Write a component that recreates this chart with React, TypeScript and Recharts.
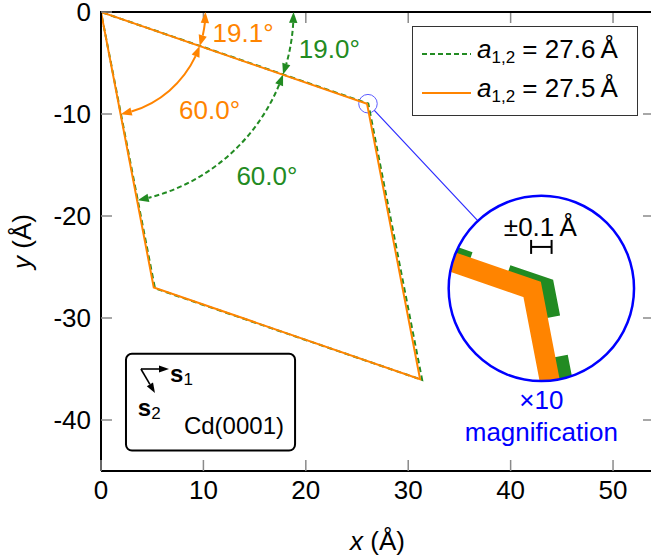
import React from 'react';
import * as Recharts from 'recharts';

const R: any = Recharts;
const { ComposedChart, Line, XAxis, YAxis, Legend, Customized } = R;

// axes
const X_TICKS = [0, 10, 20, 30, 40, 50];
const Y_TICKS = [0, -10, -20, -30, -40];
const X_DOMAIN = [0, 54];
const Y_DOMAIN = [-45, 0];

// the two unit cells (closed polygons)
const CELL_NAMES = ['27.6', '27.5'];
const GREEN_X = [0, 26.1, 31.36, 5.27, 0];
const GREEN_Y = [0, -8.98, -36.07, -27.09, 0];
const ORANGE_X = [0, 25.98, 31.16, 5.15, 0];
const ORANGE_Y = [0, -9.0, -36.0, -27.0, 0];

// angle arcs: radius (Å), start and end angle (deg below +x)
const ARC_RADIUS = [10.2, 10.2, 18.8, 18.8];
const ARC_FROM = [0, 19.1, 0, 19.0];
const ARC_TO = [19.1, 79.1, 19.0, 79.0];
const ARC_LABELS = ['19.1°', '60.0°', '19.0°', '60.0°'];

const GREEN = '#228b22';
const ORANGE = '#ff8400';
const BLUE = '#0000ff';
const TICK_GRAY = '#8a8a8a';
const FONT = '"Liberation Sans", Arial, Helvetica, sans-serif';

const W = 655;
const H = 559;
const TICK_LEN = 11;
const TICK_GAP = 10;
const DASH = '5.5 3.5';

// annotation layout (data units)
const ARC_LABEL_POS = [
  [13.87, -2.06],
  [10.6, -9.6],
  [22.3, -3.58],
  [16.2, -16.1],
];
const ZOOM_CENTER = [26.07, -8.99];
const ZOOM_R = 0.905;
const MAG = 10;
const LENS_CENTER = [43.0, -27.1];

const toRows = (xs: number[], ys: number[]) => xs.map((x, i) => ({ x, y: ys[i] }));
const greenData = toRows(GREEN_X, GREEN_Y);
const orangeData = toRows(ORANGE_X, ORANGE_Y);

const HAS_SCALE = typeof R.useXAxisScale === 'function' && typeof R.useYAxisScale === 'function';
const HAS_PLOT = typeof R.usePlotArea === 'function';

function useMapper() {
  const xs = HAS_SCALE ? R.useXAxisScale(0) : null;
  const ys = HAS_SCALE ? R.useYAxisScale(0) : null;
  const area = HAS_PLOT ? R.usePlotArea() : null;
  let rect = { x: 101, y: 12, width: 553, height: 459 };
  if (area && area.width) rect = area;
  let px = (x: number, y: number): [number, number] => [
    rect.x + ((x - X_DOMAIN[0]) / (X_DOMAIN[1] - X_DOMAIN[0])) * rect.width,
    rect.y + ((Y_DOMAIN[1] - y) / (Y_DOMAIN[1] - Y_DOMAIN[0])) * rect.height,
  ];
  if (typeof xs === 'function' && typeof ys === 'function' && Number.isFinite(xs(1))) {
    px = (x: number, y: number) => [xs(x), ys(y)];
  }
  return { px, rect };
}

function head(tip: number[], base: number[], half: number, color: string, key: string) {
  const dx = tip[0] - base[0];
  const dy = tip[1] - base[1];
  const l = Math.hypot(dx, dy) || 1;
  const nx = -dy / l;
  const ny = dx / l;
  const pts = [tip, [base[0] + nx * half, base[1] + ny * half], [base[0] - nx * half, base[1] - ny * half]];
  return <polygon key={key} points={pts.map((p) => p.join(',')).join(' ')} fill={color} />;
}

function Annotations() {
  const { px, rect } = useMapper();
  const unit = px(1, 0)[0] - px(0, 0)[0];
  const right = px(X_DOMAIN[1], 0)[0];
  const top = px(0, Y_DOMAIN[1])[1];
  const left = px(X_DOMAIN[0], 0)[0];
  const bottom = px(0, Y_DOMAIN[0])[1];

  const arcs = ARC_RADIUS.map((r, i) => {
    const green = i >= 2;
    const color = green ? GREEN : ORANGE;
    const c = px(0, 0);
    const rx = px(r, 0)[0] - c[0];
    const ry = px(0, -r)[1] - c[1];
    const at = (deg: number) => {
      const t = (deg * Math.PI) / 180;
      return [c[0] + rx * Math.cos(t), c[1] + ry * Math.sin(t)];
    };
    const d = ((11 / rx) * 180) / Math.PI;
    const s = at(ARC_FROM[i] + d);
    const e = at(ARC_TO[i] - d);
    return (
      <g key={`arc${i}`}>
        <path
          d={`M${s[0]},${s[1]} A${rx},${ry} 0 0 1 ${e[0]},${e[1]}`}
          fill="none"
          stroke={color}
          strokeWidth={2}
          strokeDasharray={green ? '5 3' : undefined}
        />
        {head(at(ARC_FROM[i]), at(ARC_FROM[i] + d), 4.2, color, 'h1')}
        {head(at(ARC_TO[i]), at(ARC_TO[i] - d), 4.2, color, 'h2')}
        <text
          x={px(ARC_LABEL_POS[i][0], 0)[0]}
          y={px(0, ARC_LABEL_POS[i][1])[1]}
          dy="0.355em"
          textAnchor="middle"
          fontSize={26}
          fill={color}
        >
          {ARC_LABELS[i]}
        </text>
      </g>
    );
  });

  // magnifier
  const zc = px(ZOOM_CENTER[0], ZOOM_CENTER[1]);
  const lc = px(LENS_CENTER[0], LENS_CENTER[1]);
  const rSmall = ZOOM_R * unit;
  const rBig = rSmall * MAG;
  const mag = (x: number, y: number) => {
    const p = px(x, y);
    return [lc[0] + MAG * (p[0] - zc[0]), lc[1] + MAG * (p[1] - zc[1])];
  };
  const poly = (data: { x: number; y: number }[]) => data.map((p) => mag(p.x, p.y).join(',')).join(' ');
  const ddx = lc[0] - zc[0];
  const ddy = lc[1] - zc[1];
  const dl = Math.hypot(ddx, ddy);
  const ux = ddx / dl;
  const uy = ddy / dl;
  const barY = lc[1] - 41.5;
  const barHalf = 0.1 * unit * MAG;

  // Cd(0001) box
  const b0 = px(2.44, -33.5);
  const b1 = px(18.95, -43.0);
  const o = px(3.9, -35.0);
  const s1 = px(6.64, -35.0);
  const s2 = px(5.27, -37.35);
  const armHead = (tip: number[]) => {
    const dx = tip[0] - o[0];
    const dy = tip[1] - o[1];
    const l = Math.hypot(dx, dy);
    return [tip[0] - (dx / l) * 10, tip[1] - (dy / l) * 10];
  };
  const a1 = armHead(s1);
  const a2 = armHead(s2);

  const midX = rect.x + rect.width / 2;
  const midY = rect.y + rect.height / 2;

  return (
    <g fontFamily={FONT}>
      {/* top and right frame with inward ticks */}
      <g stroke={TICK_GRAY} strokeWidth={1.5}>
        {X_TICKS.filter((t) => t > X_DOMAIN[0]).map((t) => (
          <line key={`tt${t}`} x1={px(t, 0)[0]} x2={px(t, 0)[0]} y1={top} y2={top + TICK_LEN} />
        ))}
        {Y_TICKS.filter((t) => t < Y_DOMAIN[1]).map((t) => (
          <line key={`rt${t}`} x1={right} x2={right - TICK_LEN} y1={px(0, t)[1]} y2={px(0, t)[1]} />
        ))}
      </g>
      <line x1={left - 1} x2={right} y1={top} y2={top} stroke="#000" strokeWidth={2} />
      <line x1={right} x2={right} y1={top} y2={bottom} stroke="#000" strokeWidth={2} />

      {arcs}

      <circle cx={zc[0]} cy={zc[1]} r={rSmall} fill="none" stroke="#5c5cff" strokeWidth={1} />
      <line
        x1={zc[0] + ux * rSmall}
        y1={zc[1] + uy * rSmall}
        x2={lc[0] - ux * rBig}
        y2={lc[1] - uy * rBig}
        stroke="#2a2aff"
        strokeWidth={1.2}
      />
      <defs>
        <clipPath id="lensClip">
          <circle cx={lc[0]} cy={lc[1]} r={rBig} />
        </clipPath>
      </defs>
      <circle cx={lc[0]} cy={lc[1]} r={rBig} fill="#fff" />
      <g clipPath="url(#lensClip)">
        <polyline
          points={poly(greenData)}
          fill="none"
          stroke={GREEN}
          strokeWidth={20}
          strokeDasharray="70 40"
          strokeDashoffset={74}
        />
        <polyline points={poly(orangeData)} fill="none" stroke={ORANGE} strokeWidth={20} />
      </g>
      <circle cx={lc[0]} cy={lc[1]} r={rBig} fill="none" stroke={BLUE} strokeWidth={2.5} />
      <text x={lc[0] - 1} y={lc[1] - 62} dy="0.355em" textAnchor="middle" fontSize={26} fill="#000">
        ±0.1{'\u2009'}Å
      </text>
      <g stroke="#000" strokeWidth={2}>
        <line x1={lc[0] - barHalf} x2={lc[0] + barHalf} y1={barY} y2={barY} />
        <line x1={lc[0] - barHalf} x2={lc[0] - barHalf} y1={barY - 7} y2={barY + 7} />
        <line x1={lc[0] + barHalf} x2={lc[0] + barHalf} y1={barY - 7} y2={barY + 7} />
      </g>
      <text x={lc[0]} y={lc[1] + 111} dy="0.355em" textAnchor="middle" fontSize={26} fill={BLUE}>
        ×10
      </text>
      <text x={lc[0]} y={lc[1] + 143} dy="0.355em" textAnchor="middle" fontSize={26} fill={BLUE}>
        magnification
      </text>

      <rect
        x={b0[0]}
        y={b0[1]}
        width={b1[0] - b0[0]}
        height={b1[1] - b0[1]}
        rx={6}
        fill="#fff"
        stroke="#000"
        strokeWidth={2}
      />
      <line x1={o[0]} y1={o[1]} x2={a1[0]} y2={a1[1]} stroke="#000" strokeWidth={1.6} />
      <line x1={o[0]} y1={o[1]} x2={a2[0]} y2={a2[1]} stroke="#000" strokeWidth={1.6} />
      {head(s1, a1, 3.6, '#000', 's1h')}
      {head(s2, a2, 3.6, '#000', 's2h')}
      <text x={px(6.74, 0)[0]} y={px(0, -35.4)[1]} dy="0.355em" fontSize={24} fill="#000">
        <tspan fontWeight="bold">s</tspan>
        <tspan fontSize={17} dy="3">1</tspan>
      </text>
      <text x={px(3.6, 0)[0]} y={px(0, -38.8)[1]} dy="0.355em" fontSize={24} fill="#000">
        <tspan fontWeight="bold">s</tspan>
        <tspan fontSize={17} dy="3">2</tspan>
      </text>
      <text x={px(17.87, 0)[0]} y={px(0, -40.5)[1]} dy="0.355em" textAnchor="end" fontSize={24} fill="#000">
        Cd(0001)
      </text>

      <text x={midX} y={rect.y + rect.height + 70} dy="0.355em" textAnchor="middle" fontSize={26} fill="#000">
        <tspan fontStyle="italic">x</tspan> (Å)
      </text>
      <text
        x={22}
        y={midY}
        dy="0.355em"
        textAnchor="middle"
        fontSize={26}
        fill="#000"
        transform={`rotate(-90 22 ${midY})`}
      >
        <tspan fontStyle="italic">y</tspan> (Å)
      </text>
    </g>
  );
}

const XTick = (p: any) => {
  const { x, y, payload } = p;
  const base = y - TICK_GAP;
  return (
    <g>
      <line x1={x} x2={x} y1={base} y2={base - TICK_LEN} stroke={TICK_GRAY} strokeWidth={1.5} />
      <text x={x} y={y} dy="0.71em" textAnchor="middle" fontSize={26} fontFamily={FONT} fill="#000">
        {payload.value}
      </text>
    </g>
  );
};

const YTick = (p: any) => {
  const { x, y, payload } = p;
  const base = x + TICK_GAP;
  return (
    <g>
      <line x1={base} x2={base + TICK_LEN} y1={y} y2={y} stroke={TICK_GRAY} strokeWidth={1.5} />
      <text x={x} y={y} dy="0.355em" textAnchor="end" fontSize={26} fontFamily={FONT} fill="#000">
        {payload.value}
      </text>
    </g>
  );
};

const LegendBox = (props: any) => {
  const items = [...(props.payload || [])].sort(
    (a: any, b: any) => CELL_NAMES.indexOf(a.value) - CELL_NAMES.indexOf(b.value),
  );
  return (
    <div
      style={{
        boxSizing: 'border-box',
        width: 226,
        height: 90,
        border: '1.5px solid #333',
        background: '#fff',
        paddingTop: 7,
        fontFamily: FONT,
        fontSize: 26,
        color: '#000',
      }}
    >
      {items.map((it: any, i: number) => {
        const dashed = it.value === CELL_NAMES[0];
        return (
          <div key={i} style={{ display: 'flex', alignItems: 'center', height: 39 }}>
            <svg width={58} height={10} style={{ display: 'block' }}>
              <line
                x1={9}
                x2={58}
                y1={5}
                y2={5}
                stroke={it.color}
                strokeWidth={2}
                strokeDasharray={dashed ? '5 3' : undefined}
              />
            </svg>
            <span style={{ marginLeft: 6, whiteSpace: 'nowrap', lineHeight: '26px' }}>
              <i>a</i>
              <sub style={{ fontSize: 17, verticalAlign: '-5px' }}>1,2</sub> = {it.value}
              {'\u2009'}Å
            </span>
          </div>
        );
      })}
    </div>
  );
};

export default function App() {
  return (
    <div style={{ position: 'absolute', left: 0, top: 0, width: 651, height: 559, overflow: 'hidden', background: '#fff' }}>
      <ComposedChart width={W} height={H} margin={{ top: 12, right: 1, bottom: 0, left: 0 }}>
        <XAxis
          xAxisId={0}
          dataKey="x"
          type="number"
          domain={X_DOMAIN}
          ticks={X_TICKS}
          allowDataOverflow
          height={88}
          tickSize={0}
          tickMargin={TICK_GAP}
          tickLine={false}
          tick={<XTick />}
          axisLine={{ stroke: '#000', strokeWidth: 2 }}
        />
        <YAxis
          yAxisId={0}
          dataKey="y"
          type="number"
          domain={Y_DOMAIN}
          ticks={Y_TICKS}
          allowDataOverflow
          width={101}
          tickSize={0}
          tickMargin={TICK_GAP}
          tickLine={false}
          tick={<YTick />}
          axisLine={{ stroke: '#000', strokeWidth: 2 }}
        />
        <Line
          data={greenData}
          dataKey="y"
          name={CELL_NAMES[0]}
          stroke={GREEN}
          strokeWidth={2}
          strokeDasharray={DASH}
          strokeDashoffset={7.4}
          dot={false}
          activeDot={false}
          isAnimationActive={false}
        />
        <Line
          data={orangeData}
          dataKey="y"
          name={CELL_NAMES[1]}
          stroke={ORANGE}
          strokeWidth={2}
          dot={false}
          activeDot={false}
          isAnimationActive={false}
        />
        <Customized component={Annotations} />
        <Legend
          verticalAlign="middle"
          layout="horizontal"
          content={LegendBox}
          wrapperStyle={{ top: 26, left: 412, width: 226, height: 90 }}
        />
      </ComposedChart>
    </div>
  );
}
